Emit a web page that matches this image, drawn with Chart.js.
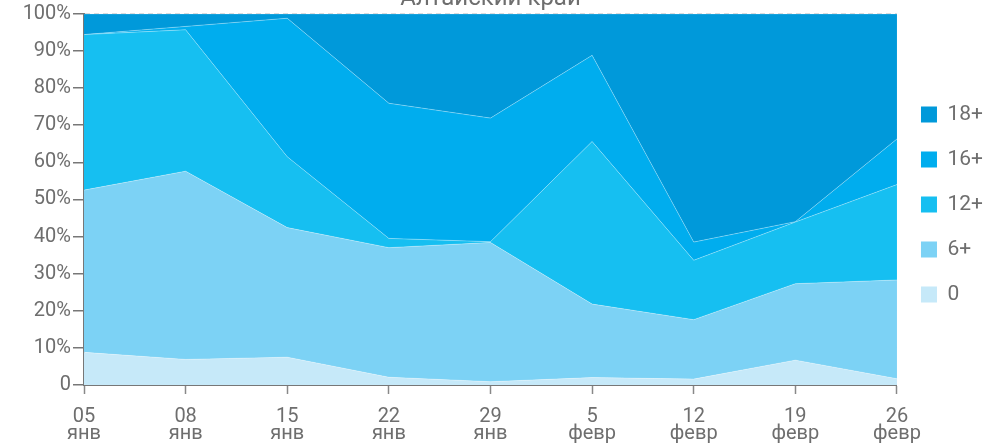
<!DOCTYPE html>
<html>
<head>
<meta charset="utf-8">
<script src="https://cdn.jsdelivr.net/npm/chart.js@4.4.1/dist/chart.umd.min.js"></script>
<style>
  body { margin: 0; background: #fff; overflow: hidden; }
  /* shifted up so the title is mostly cut off, like the original */
  #wrap { position: absolute; left: 0; top: -15px; width: 1002px; height: 458px; }
</style>
</head>
<body>
<div id="wrap"><canvas id="chart"></canvas></div>
<script>
// dates (two-line labels)
const dates = [["05", "янв"], ["08", "янв"], ["15", "янв"], ["22", "янв"], ["29", "янв"],
               ["5", "февр"], ["12", "февр"], ["19", "февр"], ["26", "февр"]];

// share of each age rating, % (stacked bottom -> top)
const age0  = [8.8, 6.9, 7.5, 2.1, 0.9, 2.0, 1.6, 6.7, 1.7];
const age6  = [43.7, 50.7, 34.9, 34.9, 37.5, 19.8, 16.0, 20.6, 26.6];
const age12 = [41.9, 38.1, 19.1, 2.5, 0.2, 43.8, 16.0, 16.6, 25.7];
const age16 = [0.0, 0.9, 37.3, 36.4, 33.3, 23.2, 4.9, 0.1, 12.3];
const age18 = [5.6, 3.4, 1.2, 24.1, 28.1, 11.2, 61.5, 56.0, 33.7];

const yTicks = [0, 10, 20, 30, 40, 50, 60, 70, 80, 90, 100];

const FONT = "Roboto, 'Liberation Sans', sans-serif";
const GREY = "#6e6e6e";

// one helper for the area layers
function layer(label, data, color, fill) {
    return {
        label: label,
        data: data,
        backgroundColor: color,
        borderColor: "rgba(255,255,255,0.3)",
        borderWidth: 1,
        fill: fill,
        pointRadius: 0,
        tension: 0,
    };
}

new Chart(document.getElementById("chart"), {
    type: "line",
    data: {
        labels: dates,
        datasets: [
            layer("0", age0, "#c6e9f9", "origin"),
            layer("6+", age6, "#7cd2f5", "-1"),
            layer("12+", age12, "#16bff1", "-1"),
            layer("16+", age16, "#00adee", "-1"),
            layer("18+", age18, "#0099da", "-1"),
        ],
    },
    options: {
        responsive: true,
        maintainAspectRatio: false,
        animation: false,
        layout: { padding: { right: 9 } },
        plugins: {
            title: {
                display: true,
                text: "Алтайский край",
                fullSize: false,
                color: GREY,
                font: { family: FONT, size: 24, weight: "normal" },
                padding: { top: 0, bottom: 0 },
            },
            legend: {
                position: "right",
                fullSize: false,
                reverse: true,
                maxWidth: 105,
                // empty title only nudges the items down a few px
                title: { display: true, text: "", font: { size: 1 }, padding: 4.5 },
                labels: {
                    color: GREY,
                    font: { family: FONT, size: 21 },
                    boxWidth: 16,
                    boxHeight: 16,
                    padding: 24,
                    generateLabels: (chart) => {
                        const items = Chart.defaults.plugins.legend.labels.generateLabels(chart);
                        items.forEach((it) => { it.strokeStyle = it.fillStyle; it.lineWidth = 0; });
                        return items;
                    },
                },
            },
            tooltip: { enabled: false },
        },
        scales: {
            x: {
                z: 1,
                offset: false,
                grid: { drawOnChartArea: false, tickLength: 9, tickColor: "#888", tickWidth: 1.5 },
                border: { color: "#777", width: 2 },
                ticks: {
                    color: GREY,
                    font: { family: FONT, size: 20, lineHeight: 0.88 },
                    padding: 14,
                    maxRotation: 0,
                    autoSkip: false,
                },
                afterFit: (s) => { s.height = 58; },
            },
            y: {
                z: 1,
                stacked: true,
                min: 0,
                max: 100,
                afterBuildTicks: (s) => { s.ticks = yTicks.map((v) => ({ value: v })); },
                grid: {
                    color: "rgba(215,215,215,0.9)",
                    lineWidth: 1.5,
                    tickLength: 11,
                    tickColor: "#777",
                    tickWidth: 1.5,
                    tickBorderDash: [],
                },
                border: { color: "#777", width: 2, dash: [5, 4] },
                ticks: {
                    color: GREY,
                    font: { family: FONT, size: 20 },
                    padding: 2,
                    callback: (v) => (v === 0 ? "0" : v + "%"),
                },
                afterFit: (s) => { s.width = 84; },
            },
        },
    },
});
</script>
</body>
</html>
